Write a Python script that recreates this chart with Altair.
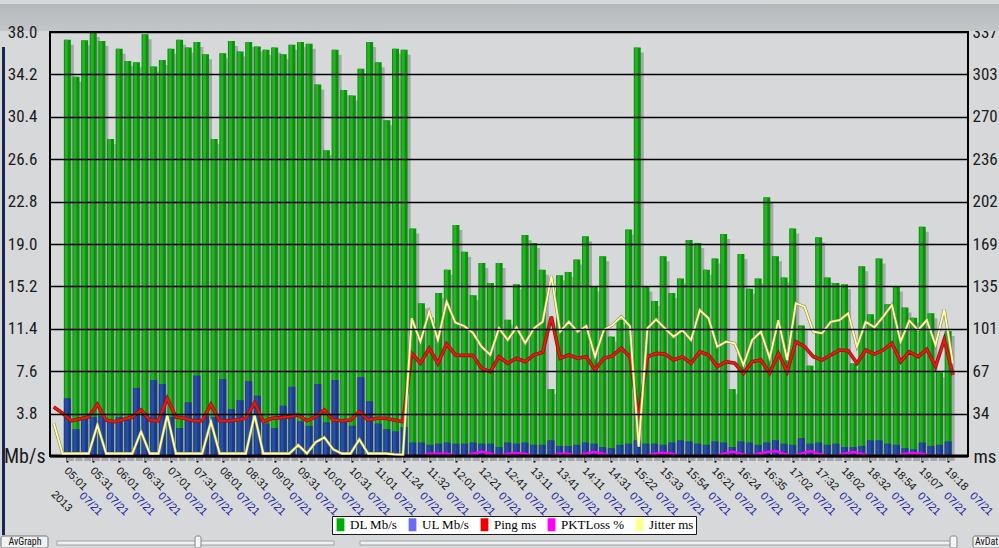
import json
import altair as alt
import pandas as pd

# ---------------- data ----------------
dl = [37.3, 34.0, 37.25, 38.0, 37.2, 28.4, 36.5, 35.4, 35.3, 37.8,
      34.9, 35.5, 36.5, 37.3, 36.6, 37.1, 36.0, 28.4, 36.1, 37.2,
      36.25, 37.1, 36.7, 36.4, 36.6, 36.0, 36.85, 37.1, 36.95, 33.3,
      27.4, 36.4, 32.8, 32.3, 34.7, 37.1, 35.3, 30.1, 36.5, 36.4,
      20.4, 13.7, 12.4, 14.6, 16.7, 20.7, 18.3, 14.4, 17.3, 15.5,
      17.3, 12.2, 15.4, 19.8, 19.1, 16.7, 6.0, 16.2, 16.5, 17.6,
      19.7, 15.2, 17.9, 10.7, 12.2, 20.3, 36.6, 15.2, 13.9, 17.9,
      14.6, 15.9, 19.35, 19.1, 16.7, 17.7, 19.9, 6.0, 18.1, 15.0,
      15.9, 23.2, 17.9, 16.0, 20.4, 11.7, 8.1, 19.6, 16.0, 15.5,
      15.4, 8.3, 17.0, 12.7, 17.7, 13.6, 15.2, 13.3, 12.4, 20.55,
      12.8, 7.5, 11.2]

ul = [5.17, 2.4, 3.4, 3.5, 3.6, 3.2, 3.5, 3.4, 6.1, 3.8,
      6.8, 6.45, 3.5, 2.5, 4.8, 7.2, 3.6, 3.5, 6.9, 4.2,
      5.0, 6.7, 5.4, 2.9, 2.5, 4.5, 6.2, 3.1, 2.7, 6.45,
      3.0, 6.8, 3.3, 2.7, 7.05, 4.9, 2.9, 2.4, 2.2, 2.6,
      1.2, 1.2, 1.0, 1.1, 1.2, 1.1, 1.1, 1.2, 1.1, 1.1,
      0.8, 1.2, 1.1, 1.2, 1.0, 1.0, 1.4, 0.9, 0.9, 1.0,
      1.2, 1.1, 0.8, 0.7, 1.0, 1.1, 1.4, 1.1, 1.1, 1.0,
      1.2, 1.4, 1.3, 1.1, 1.0, 1.3, 1.2, 0.8, 1.3, 1.2,
      1.0, 1.2, 1.4, 1.1, 1.0, 1.6, 1.1, 1.2, 1.0, 1.1,
      0.8, 0.8, 0.9, 1.4, 1.4, 1.1, 1.0, 0.7, 0.6, 1.2,
      0.9, 1.0, 1.3]

pkt = [0, 0, 0, 0, 0, 0, 0, 0, 0, 0,
       0, 0, 0, 0, 0, 0, 0, 0, 0, 0,
       0, 0, 0, 0, 0, 0, 0, 0, 0, 0,
       0, 0, 0, 0, 0, 0, 0, 0, 0, 0,
       0, 0, 0.2, 0.2, 0.2, 0, 0, 0.2, 0.4, 0.2,
       0, 0.2, 0.25, 0.2, 0, 0, 0, 0.2, 0.2, 0,
       0.2, 0.35, 0.2, 0, 0, 0, 0, 0, 0.2, 0.3,
       0.2, 0, 0, 0, 0, 0, 0.2, 0.4, 0.2, 0,
       0.2, 0.35, 0.45, 0.2, 0, 0.2, 0.45, 0.2, 0, 0,
       0.2, 0.35, 0.2, 0, 0, 0, 0, 0.2, 0.25, 0.2,
       0, 0, 0]

# line series start one step before the first bar
ping = [39.0, 34.0, 28.0, 29.5, 31.0, 41.0, 28.6, 27.3, 29.0, 31.0,
        36.6, 28.6, 28.0, 45.8, 31.0, 30.0, 28.0, 28.0, 41.0, 28.0,
        28.0, 28.6, 30.0, 42.4, 27.3, 30.0, 30.5, 31.3, 32.6, 28.0,
        31.3, 36.6, 28.6, 28.0, 28.6, 35.2, 28.6, 30.0, 30.0, 28.6,
        27.3, 81.6, 73.7, 85.6, 73.7, 89.0, 80.3, 80.0, 80.0, 69.7,
        67.0, 78.9, 73.7, 77.7, 75.0, 80.3, 82.4, 110.7, 77.7, 80.3,
        77.7, 78.9, 68.4, 77.7, 79.5, 85.6, 78.9, 30.0, 78.9, 81.6,
        81.0, 76.3, 78.9, 73.7, 82.9, 80.3, 71.0, 75.0, 73.7, 65.7,
        75.0, 76.3, 65.7, 81.6, 67.0, 90.9, 86.9, 78.9, 76.3, 80.3,
        84.2, 83.7, 73.7, 84.2, 81.0, 84.2, 89.6, 75.0, 82.9, 78.9,
        84.8, 71.0, 92.7, 64.4]

jitter = [26.0, 2, 2, 2, 2, 24.6, 2, 2, 2, 2,
          19.3, 2, 2, 32.6, 2, 2, 2, 2, 27.3, 2,
          2, 2, 2, 32.6, 2, 2, 2, 2, 8.7, 2,
          11.0, 14.8, 5.3, 2, 2, 13.2, 2, 2, 2, 1.3,
          1.0, 109.4, 90.9, 114.7, 92.2, 122.6, 106.0, 103.3, 98.0, 86.9,
          80.3, 101.5, 92.2, 102.3, 89.6, 101.5, 106.7, 143.0, 98.8, 106.7,
          98.8, 103.3, 78.9, 100.1, 104.1, 110.7, 103.3, 7.4, 101.5, 108.6,
          101.5, 94.8, 100.1, 92.2, 116.0, 109.4, 86.9, 90.9, 89.6, 72.3,
          92.2, 98.8, 77.7, 108.0, 76.3, 121.4, 118.7, 98.8, 97.5, 106.7,
          108.0, 113.4, 86.9, 106.7, 102.3, 110.7, 120.0, 90.9, 107.5, 100.1,
          108.0, 88.2, 116.6, 73.7]

tick_times = ["05:01", "05:31", "06:01", "06:31", "07:01", "07:31", "08:01",
              "08:31", "09:01", "09:31", "10:01", "10:31", "11:01", "11:24",
              "11:32", "12:01", "12:21", "12:41", "13:11", "13:41", "14:11",
              "14:31", "15:22", "15:33", "15:54", "16:21", "16:24", "16:35",
              "17:02", "17:32", "18:02", "18:32", "18:54", "19:07", "19:18"]
tick_date = "07/21"
year_label = "2013"
left_labels = ["Mb/s", "3.8", "7.6", "11.4", "15.2", "19.0", "22.8",
               "26.6", "30.4", "34.2", "38.0"]
right_labels = ["ms", "34", "67", "101", "135", "169", "202", "236",
                "270", "303", "337"]
series_names = ["DL Mb/s", "UL Mb/s", "Ping ms", "PKTLoss %", "Jitter ms"]
legend_colors = ["#00ad00", "#6b6bf2", "#ee0000", "#ff00ff", "#ffff8c"]

# ---------------- tables ----------------
n_bars = len(dl)
bars = pd.DataFrame({"idx": list(range(n_bars)), "dl": dl, "ul": ul, "pkt": pkt})
lines = pd.DataFrame({"idx": list(range(-1, n_bars)), "ping": ping, "jitter": jitter})
tick_idx = list(range(0, n_bars, 3))
left_max, right_max = 38.0, 337.0
left_vals = [round(left_max * k / 10, 3) for k in range(11)]
right_vals = [round(right_max * k / 10, 3) for k in range(11)]

NARROW = "Liberation Sans Narrow, Arial Narrow, Roboto Condensed, Liberation Sans, sans-serif"
SANS = "Liberation Sans, Arial, sans-serif"

xs = alt.Scale(domain=[-1.43, 103.72], nice=False, zero=False)
ys_left = alt.Scale(domain=[0, left_max], nice=False)
ys_right = alt.Scale(domain=[0, right_max], nice=False)

time_axis = alt.Axis(
    orient="bottom", values=tick_idx,
    labelExpr=f"{json.dumps(tick_times)}[round(datum.value / 3)]",
    labelAngle=45, labelAlign="left", labelBaseline="middle",
    labelFont=SANS, labelFontSize=11, labelColor="#111111",
    labelOverlap=False, labelFlush=False, labelBound=False,
    labelPadding=7, labelOffset=-2,
    ticks=True, tickSize=6, tickWidth=2, tickColor="black",
    domain=False, grid=False,
    title=year_label, titleAngle=45, titleX=11, titleY=45,
    titleAlign="center", titleBaseline="middle", titleFont=SANS,
    titleFontSize=11, titleFontWeight="normal", titleColor="#111111")

date_axis = alt.Axis(
    orient="bottom", values=tick_idx, labelExpr=json.dumps(tick_date),
    labelAngle=45, labelAlign="left", labelBaseline="middle",
    labelFont=SANS, labelFontSize=11, labelColor="#2020a0",
    labelOverlap=False, labelFlush=False, labelBound=False,
    labelPadding=38, labelOffset=18, ticks=False, tickSize=0,
    domain=False, grid=False, title=None)

left_axis = alt.Axis(
    orient="left", values=left_vals,
    labelExpr=f"{json.dumps(left_labels)}[round(datum.value / {left_max / 10})]",
    grid=True, gridColor="black", gridWidth=1.6, domain=False,
    ticks=False, tickSize=0, labelFont=NARROW,
    labelFontSize={"condition": {"test": "datum.value == 0", "value": 20}, "value": 17},
    labelPadding={"condition": {"test": "datum.value == 0", "value": 5}, "value": 13},
    labelColor="#1a1a1a", labelOverlap=False, labelFlush=False,
    title=None, zindex=1)

right_axis = alt.Axis(
    orient="right", values=right_vals,
    labelExpr=f"{json.dumps(right_labels)}[round(datum.value / {right_max / 10})]",
    grid=False, domain=False, ticks=False, tickSize=0, labelFont=NARROW,
    labelFontSize={"condition": {"test": "datum.value == 0", "value": 19}, "value": 17},
    labelPadding={"condition": {"test": "datum.value == 0", "value": 5}, "value": 4},
    labelColor="#1a1a1a", labelOverlap=False, labelFlush=False, title=None)

X_l = alt.X("idx:Q", scale=xs, axis=time_axis)
X_r = alt.X("idx:Q", scale=xs, axis=date_axis)


def y_l(field):
    return alt.Y(f"{field}:Q", scale=ys_left, axis=left_axis)


def y_r(field):
    return alt.Y(f"{field}:Q", scale=ys_right, axis=right_axis)


base_b = alt.Chart(bars)
shadow = base_b.mark_bar(color="#a5a8ab", size=7, xOffset=3, yOffset=5).encode(x=X_l, y=y_l("dl"))
dl_bar = base_b.mark_bar(color="#0a930a", size=7).encode(x=X_l, y=y_l("dl"))
dl_hi = base_b.mark_bar(color="#28b028", size=3, xOffset=-1).encode(x=X_l, y=y_l("dl"))
ul_bar = base_b.mark_bar(color="#193a8a", size=7).encode(x=X_l, y=y_l("ul"))
ul_hi = base_b.mark_bar(color="#2a4ea6", size=3, xOffset=-1).encode(x=X_l, y=y_l("ul"))
pkt_line = base_b.mark_line(color="#ff00ff", strokeWidth=2.5).encode(x=X_l, y=y_l("pkt"))
zero_rule = alt.Chart(pd.DataFrame({"z": [0.0]})).mark_rule(
    color="black", strokeWidth=3).encode(y=y_l("z"))

base_l = alt.Chart(lines)
ping_sh = base_l.mark_line(color="#8a1a08", strokeWidth=3.6).encode(x=X_r, y=y_r("ping"))
ping_ln = base_l.mark_line(color="#e81818", strokeWidth=2).encode(x=X_r, y=y_r("ping"))
jit_sh = base_l.mark_line(color="#8c8c62", strokeWidth=3).encode(x=X_r, y=y_r("jitter"))
jit_ln = base_l.mark_line(color="#ffffa0", strokeWidth=1.8).encode(x=X_r, y=y_r("jitter"))

legend_def = alt.Legend(
    title=None, orient="none", legendX=282, legendY=484, direction="horizontal",
    symbolType="M-0.6,-1H0.6V1H-0.6Z", symbolSize=169, symbolStrokeWidth=0,
    symbolOpacity=1, labelFont="Liberation Serif, Times New Roman, serif",
    labelFontSize=13, labelColor="black", labelOffset=3, columnPadding=8,
    padding=2, fillColor="white", strokeColor="#1a1a1a", labelLimit=300)
legend_layer = alt.Chart(pd.DataFrame({"series": series_names})).mark_point(
    filled=True, opacity=0).encode(
    color=alt.Color("series:N", scale=alt.Scale(domain=series_names, range=legend_colors),
                    legend=legend_def))

# ---------------- window chrome (decoration) ----------------
one = pd.DataFrame({"k": [0]})


def box(x1, x2, y1, y2, **kw):
    return alt.Chart(one).mark_rect(**kw).encode(
        x=alt.value(x1), x2=alt.value(x2), y=alt.value(y1), y2=alt.value(y2))


band = box(-50, 949, -28, -1, color=alt.LinearGradient(
    gradient="linear", x1=0, x2=0, y1=0, y2=1,
    stops=[alt.GradientStop(color="#b4b8bc", offset=0),
           alt.GradientStop(color="#c3c6c9", offset=1)]))
stripe = box(-48, -45, 15, 503, color="#1b2650")
track1 = box(7, 284, 509, 513, fill="#eef0f2", stroke="#a0a4a8", strokeWidth=1)
track2 = box(310, 904, 509, 513, fill="#eef0f2", stroke="#a0a4a8", strokeWidth=1)
knob1 = box(145, 151, 504, 516, fill="#f4f4f4", stroke="#808488", strokeWidth=1, cornerRadius=2)
knob2 = box(900, 907, 504, 516, fill="#f4f4f4", stroke="#808488", strokeWidth=1, cornerRadius=2)
btn1 = box(-49, -2, 504, 516, fill="#f2f2f2", stroke="#707478", strokeWidth=1, cornerRadius=2)
btn2 = box(923, 952, 504, 516, fill="#f2f2f2", stroke="#707478", strokeWidth=1, cornerRadius=2)
btn1_txt = alt.Chart(one).mark_text(text="AvGraph", font=NARROW, fontSize=10, color="#111111",
                                    align="center", baseline="middle").encode(
    x=alt.value(-25), y=alt.value(510))
btn2_txt = alt.Chart(one).mark_text(text="AvDat", font=NARROW, fontSize=10, color="#111111",
                                    align="left", baseline="middle").encode(
    x=alt.value(925), y=alt.value(510))

left_group = alt.layer(shadow, dl_bar, dl_hi, ul_bar, ul_hi, pkt_line, zero_rule)
right_group = alt.layer(ping_sh, ping_ln, jit_sh, jit_ln, legend_layer)

chart = alt.layer(
    band, stripe, track1, track2, knob1, knob2, btn1, btn2, btn1_txt, btn2_txt,
    left_group, right_group
).resolve_scale(x="independent", y="independent").properties(
    width=918, height=424,
    padding={"left": 50, "top": 32, "right": 31, "bottom": 92},
    autosize=alt.AutoSizeParams(type="none"),
    background="#d6d8da",
).configure_view(fill="#dcdee0", stroke="black", strokeWidth=2)

chart.save("out.html", embed_options={"renderer": "svg", "actions": False})
